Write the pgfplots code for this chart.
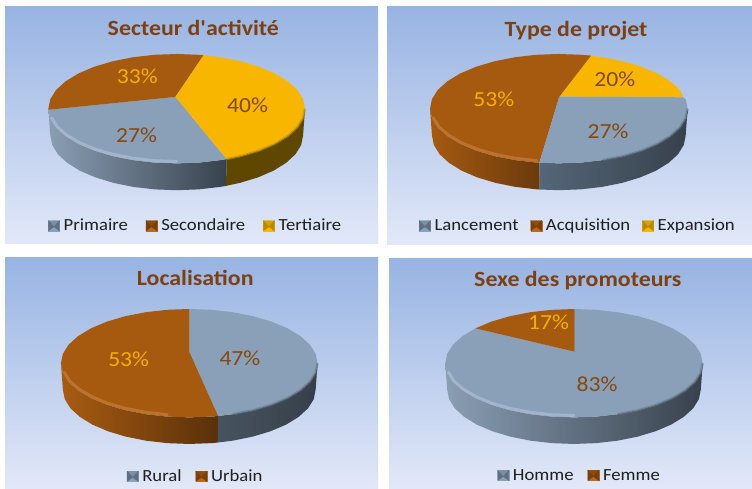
\documentclass[border=0pt]{standalone}
\usepackage{fontspec}
\usepackage{pgfplots}
\pgfplotsset{compat=1.18}
\setmainfont[FakeStretch=1.1]{Carlito}
\newfontfamily\plainfont[FakeStretch=1.1]{Carlito}
\definecolor{bgtop}{HTML}{98B4E2}
\definecolor{bgbot}{HTML}{E2E8F8}
\definecolor{grayT}{HTML}{8AA0B8}
\definecolor{brownT}{HTML}{A55A10}
\definecolor{yellowT}{HTML}{F8B600}
\definecolor{titleC}{HTML}{7D4012}
\definecolor{labB}{HTML}{85480F}
\definecolor{labY}{HTML}{F5B000}
\definecolor{sideY}{HTML}{5F4700}
\newcommand{\dc}[1]{\definecolor{c#1}{HTML}{#1}}
\dc{8A9EB4}\dc{5A6B7D}\dc{38424E}\dc{A55A10}\dc{844A0D}\dc{6B3A0C}\dc{546678}\dc{3F4B58}\dc{37414C}
\dc{A85C12}\dc{7C420C}\dc{5A300A}\dc{47545F}\dc{3A444E}\dc{363F49}\dc{55667A}\dc{A9BBD0}\dc{B08A10}
\dc{C47A38}\dc{5F7082}\dc{5E6F82}\dc{7C8FA3}\dc{8AA0B8}\dc{7A3F0A}\dc{8E4D0E}\dc{B56A20}\dc{B68A00}
\dc{D8A400}\dc{F8B600}
\pgfplotsset{
  panel/.style={
    scale only axis, axis line style={draw=none}, ticks=none, no markers,
    axis background/.style={top color=bgtop,bottom color=bgbot},
    every axis title shift=0pt,
    title style={font=\fontsize{21.7bp}{24bp}\selectfont\bfseries,text=titleC,anchor=base,inner sep=0pt},
    legend columns=-1,
    legend style={draw=none,fill=none,anchor=center,text=black!88,
      font=\fontsize{17bp}{18bp}\selectfont,
      nodes={inner xsep=4bp,inner ysep=0pt}},
  },
  csep/.style={legend style={/tikz/every even column/.append style={column sep=#1}}},
  top/.style={forget plot,draw=none,fill=#1},
  side/.style n args={3}{forget plot,draw=none,left color=c#1,middle color=c#2,right color=c#3},
  glow/.style={forget plot,draw=c#1,line width=3bp,line cap=round,opacity=.8},
  rimline/.style={forget plot,draw=c#1,line width=2.2bp,opacity=.6},
  swatch/.style n args={3}{legend image code/.code={
    \fill[c#3] (0,-5bp) rectangle (11bp,5bp);
    \fill[c#2] (0,5bp)--(11bp,5bp)--(5.5bp,-1bp)--cycle;
    \fill[c#1] (0,5bp)--(5.5bp,-1bp)--(0,-5bp)--cycle;
    \fill[c#1] (11bp,5bp)--(5.5bp,-1bp)--(11bp,-5bp)--cycle;
  }},
}
\newcommand{\lab}[4]{\node[text=#1,font=\fontsize{21.5bp}{23bp}\selectfont,inner sep=0pt] at (axis cs:#2,#3) {#4};}
\begin{document}
\begin{tikzpicture}[x=1bp,y=1bp]
\useasboundingbox (0,0) rectangle (752,489);
\fill[white] (0,0) rectangle (752,489);

% ---------- Secteur d'activite
\begin{axis}[panel,csep=14bp,at={(5bp,245bp)},anchor=south west,width=373bp,height=237bp,
  xmin=-1.338,xmax=1.569,ymin=-2.473,ymax=1.859,
  title={Secteur d{\plainfont\bfseries '}activité},title style={at={(0.505,0.878)}},
  legend style={at={(0.514,0.077)}}]
\addplot[side={8A9EB4}{5A6B7D}{38424E}] coordinates {(-1,0)(-.985,-.174)(-.94,-.342)(-.866,-.5)(-.766,-.643)(-.643,-.766)(-.5,-.866)(-.342,-.94)(-.174,-.985)(0,-1)(.174,-.985)(.342,-.94)(.39,-.921)(.384,-1.411)(.337,-1.43)(.171,-1.475)(0,-1.49)(-.171,-1.475)(-.337,-1.43)(-.493,-1.356)(-.633,-1.256)(-.755,-1.133)(-.853,-.99)(-.926,-.832)(-.97,-.664)(-.985,-.49)} -- cycle;
\addplot[forget plot,draw=none,fill=sideY] coordinates {(.39,-.921)(.5,-.866)(.643,-.766)(.766,-.643)(.866,-.5)(.94,-.342)(.985,-.174)(1,0)(.985,-.49)(.97,-.664)(.926,-.832)(.853,-.99)(.755,-1.133)(.633,-1.256)(.493,-1.356)(.384,-1.411)} -- cycle;
\addplot[top=grayT] coordinates {(-.01,.215)(-1,-.02)(-.985,-.174)(-.94,-.342)(-.866,-.5)(-.766,-.643)(-.643,-.766)(-.5,-.866)(-.342,-.94)(-.174,-.985)(0,-1)(.174,-.985)(.342,-.94)(.39,-.921)} -- cycle;
\addplot[top=brownT] coordinates {(-.01,.215)(.21,.978)(.174,.985)(0,1)(-.174,.985)(-.342,.94)(-.5,.866)(-.643,.766)(-.766,.643)(-.866,.5)(-.94,.342)(-.985,.174)(-1,0)(-1,-.02)} -- cycle;
\addplot[top=yellowT] coordinates {(-.01,.215)(.39,-.921)(.5,-.866)(.643,-.766)(.766,-.643)(.866,-.5)(.94,-.342)(.985,-.174)(1,0)(.985,.174)(.94,.342)(.866,.5)(.766,.643)(.643,.766)(.5,.866)(.342,.94)(.21,.978)} -- cycle;
\addplot[glow=A9BBD0] coordinates {(-.975,-.168)(-.931,-.33)(-.857,-.483)(-.758,-.62)(-.637,-.739)(-.495,-.836)(-.339,-.907)(-.172,-.951)(0,-.965)};
\addplot[rimline=B08A10] coordinates {(.39,-.921)(.5,-.866)(.643,-.766)(.766,-.643)(.866,-.5)(.94,-.342)(.985,-.174)(1,0)};
\lab{labY}{-.307}{.585}{33\%}
\lab{labB}{.553}{.068}{40\%}
\lab{labB}{-.312}{-.48}{27\%}
\addlegendimage{swatch={5E6F82}{7C8FA3}{8AA0B8}}\addlegendentry{Primaire}
\addlegendimage{swatch={7A3F0A}{8E4D0E}{B56A20}}\addlegendentry{Secondaire}
\addlegendimage{swatch={B68A00}{D8A400}{F8B600}}\addlegendentry{Tertiaire}
\end{axis}

% ---------- Type de projet
\begin{axis}[panel,csep=8bp,at={(387bp,244bp)},anchor=south west,width=365bp,height=238bp,
  xmin=-1.334,xmax=1.5,ymin=-2.492,ymax=1.859,
  title={Type de projet},title style={at={(0.518,0.878)}},
  legend style={at={(0.526,0.081)}}]
\addplot[side={A55A10}{844A0D}{6B3A0C}] coordinates {(-1,0)(-.985,-.174)(-.94,-.342)(-.866,-.5)(-.766,-.643)(-.643,-.766)(-.5,-.866)(-.342,-.94)(-.174,-.985)(-.151,-.988)(-.149,-1.478)(-.171,-1.475)(-.337,-1.43)(-.493,-1.356)(-.633,-1.256)(-.755,-1.133)(-.853,-.99)(-.926,-.832)(-.97,-.664)(-.985,-.49)} -- cycle;
\addplot[side={546678}{3F4B58}{37414C}] coordinates {(-.151,-.988)(0,-1)(.174,-.985)(.342,-.94)(.5,-.866)(.643,-.766)(.766,-.643)(.866,-.5)(.94,-.342)(.985,-.174)(1,0)(.985,-.49)(.97,-.664)(.926,-.832)(.853,-.99)(.755,-1.133)(.633,-1.256)(.493,-1.356)(.337,-1.43)(.171,-1.475)(0,-1.49)(-.149,-1.478)} -- cycle;
\addplot[top=yellowT] coordinates {(.004,.22)(.967,.208)(.94,.342)(.866,.5)(.766,.643)(.643,.766)(.5,.866)(.342,.94)(.25,.97)} -- cycle;
\addplot[top=brownT] coordinates {(.004,.22)(.25,.97)(.174,.985)(0,1)(-.174,.985)(-.342,.94)(-.5,.866)(-.643,.766)(-.766,.643)(-.866,.5)(-.94,.342)(-.985,.174)(-1,0)(-.985,-.174)(-.94,-.342)(-.866,-.5)(-.766,-.643)(-.643,-.766)(-.5,-.866)(-.342,-.94)(-.174,-.985)(-.151,-.988)} -- cycle;
\addplot[top=grayT] coordinates {(.004,.22)(-.151,-.988)(0,-1)(.174,-.985)(.342,-.94)(.5,-.866)(.643,-.766)(.766,-.643)(.866,-.5)(.94,-.342)(.985,-.174)(1,0)(.985,.174)(.967,.208)} -- cycle;
\addplot[glow=C47A38] coordinates {(-.975,-.168)(-.931,-.33)(-.857,-.483)(-.758,-.62)(-.637,-.739)(-.495,-.836)(-.339,-.907)(-.172,-.951)};
\addplot[rimline=5F7082] coordinates {(.342,-.94)(.5,-.866)(.643,-.766)(.766,-.643)(.866,-.5)(.94,-.342)(.985,-.174)(1,0)};
\lab{labB}{.434}{.537}{20\%}
\lab{labB}{.382}{-.408}{27\%}
\lab{labY}{-.505}{.172}{53\%}
\addlegendimage{swatch={5E6F82}{7C8FA3}{8AA0B8}}\addlegendentry{Lancement}
\addlegendimage{swatch={7A3F0A}{8E4D0E}{B56A20}}\addlegendentry{Acquisition}
\addlegendimage{swatch={B68A00}{D8A400}{F8B600}}\addlegendentry{Expansion}
\end{axis}

% ---------- Localisation
\begin{axis}[panel,csep=10bp,at={(5bp,0bp)},anchor=south west,width=373bp,height=231bp,
  xmin=-1.436,xmax=1.471,ymin=-2.321,ymax=1.941,
  title={Localisation},title style={at={(0.51,0.883)}},
  legend style={at={(0.514,0.055)}}]
\addplot[side={A85C12}{7C420C}{5A300A}] coordinates {(-1,0)(-.985,-.174)(-.94,-.342)(-.866,-.5)(-.766,-.643)(-.643,-.766)(-.5,-.866)(-.342,-.94)(-.174,-.985)(0,-1)(.174,-.985)(.225,-.974)(.222,-1.464)(.171,-1.475)(0,-1.49)(-.171,-1.475)(-.337,-1.43)(-.493,-1.356)(-.633,-1.256)(-.755,-1.133)(-.853,-.99)(-.926,-.832)(-.97,-.664)(-.985,-.49)} -- cycle;
\addplot[side={47545F}{3A444E}{363F49}] coordinates {(.225,-.974)(.342,-.94)(.5,-.866)(.643,-.766)(.766,-.643)(.866,-.5)(.94,-.342)(.985,-.174)(1,0)(.985,-.49)(.97,-.664)(.926,-.832)(.853,-.99)(.755,-1.133)(.633,-1.256)(.493,-1.356)(.337,-1.43)(.222,-1.464)} -- cycle;
\addplot[top=grayT] coordinates {(0,.212)(.225,-.974)(.342,-.94)(.5,-.866)(.643,-.766)(.766,-.643)(.866,-.5)(.94,-.342)(.985,-.174)(1,0)(.985,.174)(.94,.342)(.866,.5)(.766,.643)(.643,.766)(.5,.866)(.342,.94)(.174,.985)(0,1)} -- cycle;
\addplot[top=brownT] coordinates {(0,.212)(0,1)(-.174,.985)(-.342,.94)(-.5,.866)(-.643,.766)(-.766,.643)(-.866,.5)(-.94,.342)(-.985,.174)(-1,0)(-.985,-.174)(-.94,-.342)(-.866,-.5)(-.766,-.643)(-.643,-.766)(-.5,-.866)(-.342,-.94)(-.174,-.985)(0,-1)(.174,-.985)(.225,-.974)} -- cycle;
\addplot[glow=C47A38] coordinates {(-.975,-.168)(-.931,-.33)(-.857,-.483)(-.758,-.62)(-.637,-.739)(-.495,-.836)(-.339,-.907)(-.172,-.951)};
\addplot[rimline=5F7082] coordinates {(.342,-.94)(.5,-.866)(.643,-.766)(.766,-.643)(.866,-.5)(.94,-.342)(.985,-.174)(1,0)};
\lab{labY}{-.472}{.072}{53\%}
\lab{labB}{.395}{.09}{47\%}
\addlegendimage{swatch={5E6F82}{7C8FA3}{8AA0B8}}\addlegendentry{Rural}
\addlegendimage{swatch={7A3F0A}{8E4D0E}{B56A20}}\addlegendentry{Urbain}
\end{axis}

% ---------- Sexe des promoteurs
\begin{axis}[panel,csep=10bp,at={(389bp,0bp)},anchor=south west,width=363bp,height=230bp,
  xmin=-1.437,xmax=1.383,ymin=-2.321,ymax=1.923,
  title={Sexe des promoteurs},title style={at={(0.52,0.88)}},
  legend style={at={(0.528,0.059)}}]
\addplot[side={8A9EB4}{55667A}{37414C}] coordinates {(-1,0)(-.985,-.174)(-.94,-.342)(-.866,-.5)(-.766,-.643)(-.643,-.766)(-.5,-.866)(-.342,-.94)(-.174,-.985)(0,-1)(.174,-.985)(.342,-.94)(.5,-.866)(.643,-.766)(.766,-.643)(.866,-.5)(.94,-.342)(.985,-.174)(1,0)(.985,-.49)(.97,-.664)(.926,-.832)(.853,-.99)(.755,-1.133)(.633,-1.256)(.493,-1.356)(.337,-1.43)(.171,-1.475)(0,-1.49)(-.171,-1.475)(-.337,-1.43)(-.493,-1.356)(-.633,-1.256)(-.755,-1.133)(-.853,-.99)(-.926,-.832)(-.97,-.664)(-.985,-.49)} -- cycle;
\addplot[top=grayT] coordinates {(.005,.212)(-.766,.643)(-.866,.5)(-.94,.342)(-.985,.174)(-1,0)(-.985,-.174)(-.94,-.342)(-.866,-.5)(-.766,-.643)(-.643,-.766)(-.5,-.866)(-.342,-.94)(-.174,-.985)(0,-1)(.174,-.985)(.342,-.94)(.5,-.866)(.643,-.766)(.766,-.643)(.866,-.5)(.94,-.342)(.985,-.174)(1,0)(.985,.174)(.94,.342)(.866,.5)(.766,.643)(.643,.766)(.5,.866)(.342,.94)(.174,.985)(.005,1)} -- cycle;
\addplot[top=brownT] coordinates {(.005,.212)(.005,1)(-.174,.985)(-.342,.94)(-.5,.866)(-.643,.766)(-.766,.643)} -- cycle;
\addplot[glow=A9BBD0] coordinates {(-.975,-.168)(-.931,-.33)(-.857,-.483)(-.758,-.62)(-.637,-.739)(-.495,-.836)(-.339,-.907)(-.172,-.951)(0,-.965)};
\addplot[rimline=5F7082] coordinates {(.342,-.94)(.5,-.866)(.643,-.766)(.766,-.643)(.866,-.5)(.94,-.342)(.985,-.174)(1,0)};
\lab{labY}{-.197}{.756}{17\%}
\lab{labB}{.179}{-.38}{83\%}
\addlegendimage{swatch={5E6F82}{7C8FA3}{8AA0B8}}\addlegendentry{Homme}
\addlegendimage{swatch={7A3F0A}{8E4D0E}{B56A20}}\addlegendentry{Femme}
\end{axis}
\end{tikzpicture}
\end{document}
